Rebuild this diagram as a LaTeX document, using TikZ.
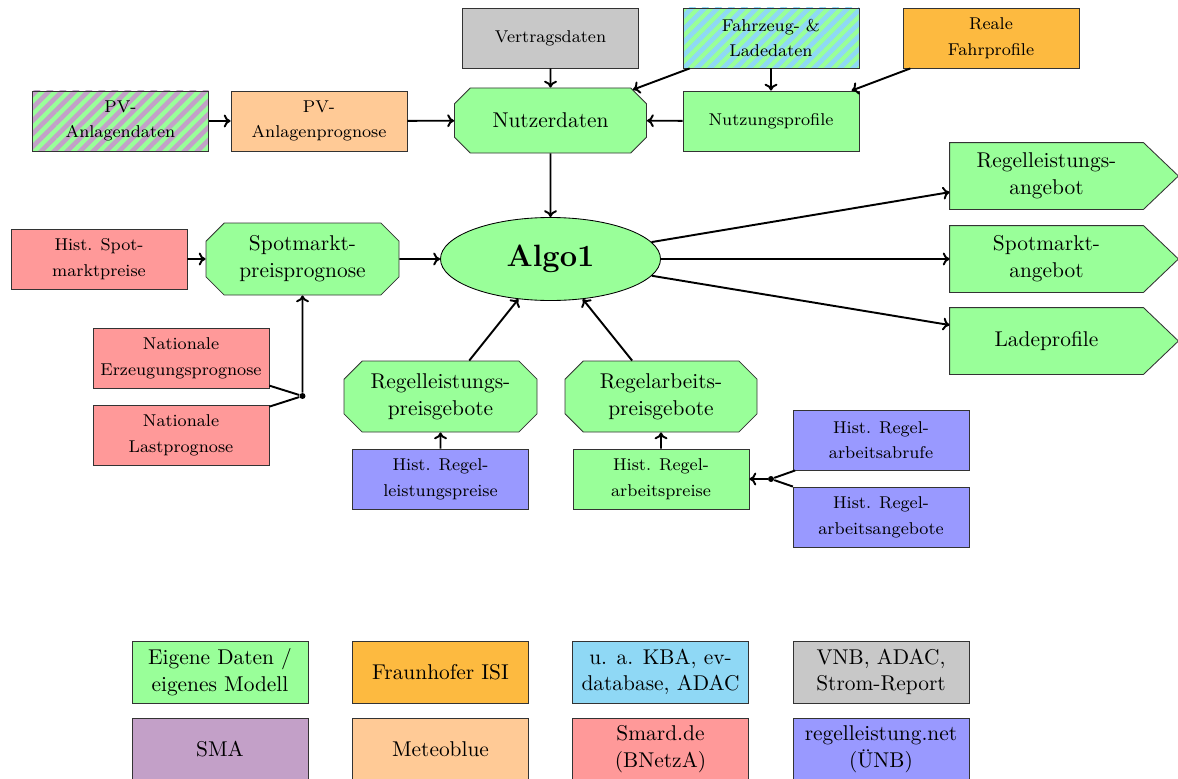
\documentclass[tikz,border=0pt]{standalone}
\usepackage{fontspec}
\usetikzlibrary{shapes.misc,shapes.geometric,patterns.meta,backgrounds,calc,arrows.meta}
\definecolor{cgreen}{HTML}{99FF99}
\definecolor{cgray}{HTML}{C8C8C8}
\definecolor{corange}{HTML}{FDBA40}
\definecolor{cblue}{HTML}{8FD8F5}
\definecolor{cpurple}{HTML}{C3A0C8}
\definecolor{cpeach}{HTML}{FFCA96}
\definecolor{cred}{HTML}{FF9999}
\definecolor{cviolet}{HTML}{9999FF}
\newcommand\pxl[1]{#1*0.4673pt}
\tikzset{
  box/.style={rectangle, draw=black!80, minimum width=\pxl{176}, minimum height=\pxl{60},
    align=center, inner sep=1pt, font=\fontsize{8}{12}\selectfont},
  oct/.style={chamfered rectangle, chamfered rectangle xsep=\pxl{12}, draw=black!80, fill=cgreen,
    align=center, inner sep=1pt, font=\fontsize{10}{12.5}\selectfont},
  legbox/.style={rectangle, draw=black!80, minimum width=\pxl{176}, minimum height=\pxl{62},
    align=center, inner sep=1pt, font=\fontsize{10}{12.5}\selectfont},
  outbox/.style={rectangle, minimum width=\pxl{193}, minimum height=\pxl{66},
    align=center, inner sep=1pt, font=\fontsize{10}{12.5}\selectfont},
  stripe/.style={postaction={pattern={Lines[angle=45,distance=4.3pt,line width=2.15pt]}, pattern color=#1},
    postaction={draw=black!80}},
  arr/.style={-{To[length=3.2pt,width=6pt]}, line width=0.9pt},
  ln/.style={line width=0.9pt},
  dotn/.style={circle, fill=black, inner sep=0pt, minimum size=2.8pt},
}
\begin{document}
\begin{tikzpicture}[x=0.4673pt, y=-0.4673pt]
\useasboundingbox (0,0) rectangle (1178,778);

% top row
\node[box, fill=cgray] (vertrag) at (550.5,38) {Vertragsdaten};
\node[box, fill=cgreen, stripe=cblue] (fahrzeug) at (771,38) {Fahrzeug- \&\\Ladedaten};
\node[box, fill=corange] (reale) at (991,38) {Reale\\Fahrprofile};

% second row
\node[box, fill=cgreen, stripe=cpurple] (pvdaten) at (120.5,121) {PV-\\Anlagendaten};
\node[box, fill=cpeach] (pvprog) at (319,121) {PV-\\Anlagenprognose};
\node[oct, minimum width=\pxl{192}, minimum height=\pxl{65}] (nutzer) at (550.5,120.5) {Nutzerdaten};
\node[box, fill=cgreen] (nutzung) at (771,121) {Nutzungsprofile};

% centre
\node[ellipse, draw=black, fill=cgreen, minimum width=\pxl{220}, minimum height=\pxl{83}, inner sep=0pt,
  font=\Large\bfseries] (algo) at (550.5,259) {Algo1};
\node[oct, minimum width=\pxl{193}, minimum height=\pxl{72}] (spotprog) at (302.5,259) {Spotmarkt-\\preisprognose};
\node[box, fill=cred] (histspot) at (99,259) {Hist. Spot-\\marktpreise};
\node[box, fill=cred] (nerz) at (181,358) {Nationale\\Erzeugungsprognose};
\node[box, fill=cred] (nlast) at (181,435) {Nationale\\Lastprognose};
\node[dotn] (dot1) at (302.5,396) {};

\node[oct, minimum width=\pxl{193}, minimum height=\pxl{71}] (rlpg) at (440.5,396.5) {Regelleistungs-\\preisgebote};
\node[oct, minimum width=\pxl{192}, minimum height=\pxl{71}] (rapg) at (661,396.5) {Regelarbeits-\\preisgebote};
\node[box, fill=cviolet] (hrlp) at (440.5,479) {Hist. Regel-\\leistungspreise};
\node[box, fill=cgreen] (hrap) at (661,479) {Hist. Regel-\\arbeitspreise};
\node[box, fill=cviolet] (hrabruf) at (881,440) {Hist. Regel-\\arbeitsabrufe};
\node[box, fill=cviolet] (hrangebot) at (881,517) {Hist. Regel-\\arbeitsangebote};
\node[dotn] (dot2) at (771,479) {};

% outputs
\node[outbox] (oregel) at (1046.5,176) {Regelleistungs-\\angebot};
\node[outbox] (ospot) at (1046.5,259) {Spotmarkt-\\angebot};
\node[outbox] (olade) at (1046.5,341) {Ladeprofile};
\begin{scope}[on background layer]
  \foreach \n in {oregel,ospot,olade}
    \filldraw[fill=cgreen, draw=black!80] (\n.north west) -- (\n.north east) -- ($(\n.east)+(35,0)$)
      -- (\n.south east) -- (\n.south west) -- cycle;
\end{scope}

% legend
\node[legbox, fill=cgreen] (l1) at (220,672) {Eigene Daten /\\eigenes Modell};
\node[legbox, fill=corange] (l2) at (440.5,672) {Fraunhofer ISI};
\node[legbox, fill=cblue] (l3) at (660.5,672) {u. a. KBA, ev-\\database, ADAC};
\node[legbox, fill=cgray] (l4) at (881,672) {VNB, ADAC,\\Strom-Report};
\node[legbox, fill=cpurple] (l5) at (220,749) {SMA};
\node[legbox, fill=cpeach] (l6) at (440.5,749) {Meteoblue};
\node[legbox, fill=cred] (l7) at (660.5,749) {Smard.de\\(BNetzA)};
\node[legbox, fill=cviolet] (l8) at (881,749) {regelleistung.net\\(ÜNB)};

% connectors
\draw[arr] (pvdaten) -- (pvprog);
\draw[arr] (pvprog) -- (nutzer);
\draw[arr] (vertrag) -- (nutzer);
\draw[arr] (fahrzeug) -- (nutzer);
\draw[arr] (fahrzeug) -- (nutzung);
\draw[arr] (reale) -- (nutzung);
\draw[arr] (nutzung) -- (nutzer);
\draw[arr] (nutzer) -- (algo);
\draw[arr] (histspot) -- (spotprog);
\draw[arr] (spotprog) -- (algo);
\draw[ln] (nerz) -- (dot1);
\draw[ln] (nlast) -- (dot1);
\draw[arr] (dot1) -- (spotprog);
\draw[arr] (rlpg) -- (algo);
\draw[arr] (rapg) -- (algo);
\draw[arr] (hrlp) -- (rlpg);
\draw[arr] (hrap) -- (rapg);
\draw[ln] (hrabruf) -- (dot2);
\draw[ln] (hrangebot) -- (dot2);
\draw[arr] (dot2) -- (hrap);
\draw[arr] (algo) -- (oregel);
\draw[arr] (algo) -- (ospot);
\draw[arr] (algo) -- (olade);
\end{tikzpicture}
\end{document}
